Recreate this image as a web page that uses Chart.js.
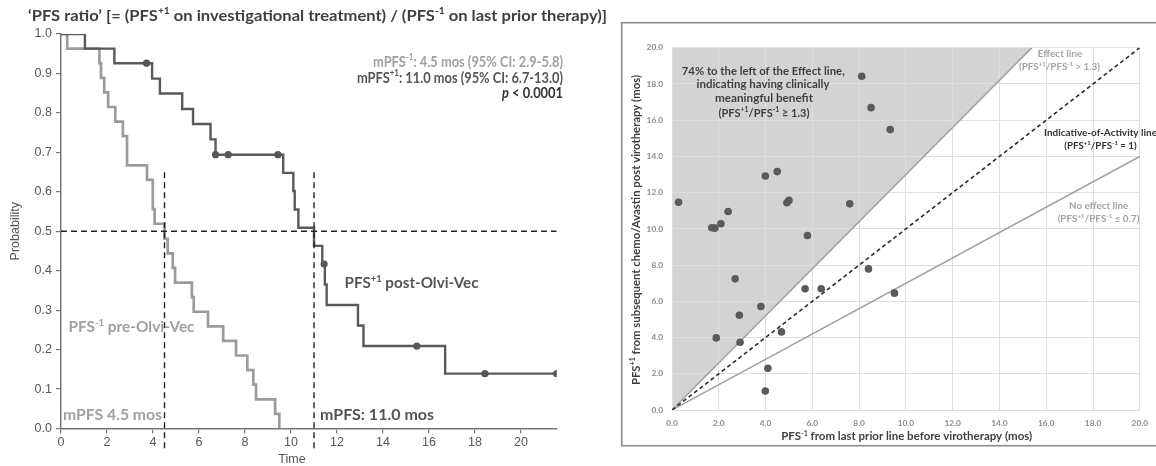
<!DOCTYPE html>
<html><head><meta charset="utf-8">
<script src="https://cdn.jsdelivr.net/npm/chart.js@4.4.1/dist/chart.umd.min.js"></script>
<style>
html,body{margin:0;padding:0;background:#fff;width:1156px;height:466px;overflow:hidden}
#left{position:absolute;left:0;top:0;width:620px;height:466px}
#right{position:absolute;left:600px;top:0;width:556px;height:466px}
</style></head><body>
<canvas id="left" width="620" height="466"></canvas>
<canvas id="right" width="556" height="466"></canvas>
<script>
// ---------- LEFT: Kaplan-Meier data ----------
const preTimes = [0, 0.27, 1.67, 1.74, 1.88, 2.05, 2.36, 2.69, 2.87, 3.74, 3.99, 4.07, 4.50, 4.64, 4.86, 4.96, 5.69, 5.77, 6.39, 7.05, 7.61, 8.10, 8.36, 8.48, 9.31, 9.49];
const preSurv  = [1, 0.963, 0.926, 0.889, 0.852, 0.815, 0.778, 0.741, 0.667, 0.630, 0.556, 0.519, 0.481, 0.444, 0.407, 0.370, 0.333, 0.296, 0.259, 0.222, 0.185, 0.148, 0.111, 0.074, 0.037, 0];
const postTimes = [0, 1.04, 2.32, 3.96, 4.30, 5.27, 5.74, 6.50, 6.72, 9.66, 10.10, 10.16, 10.32, 11.00, 11.36, 11.47, 11.55, 12.91, 13.15, 16.70, 21.55];
const postSurv  = [1, 0.963, 0.926, 0.887, 0.849, 0.810, 0.772, 0.733, 0.694, 0.648, 0.602, 0.555, 0.509, 0.463, 0.417, 0.365, 0.313, 0.261, 0.209, 0.139, 0.139];
const postCensorTimes = [3.72, 6.72, 7.27, 9.43, 11.44, 15.47, 18.43, 21.55];
const postCensorSurv  = [0.926, 0.694, 0.694, 0.694, 0.417, 0.209, 0.139, 0.139];
const medianPre = 4.5;
const medianPost = 11.0;
const medianLevel = 0.5;
const medianDashRange = [-0.05, 0.66];
const leftXTicks = [0, 2, 4, 6, 8, 10, 12, 14, 16, 18, 20];
const leftYTicks = [0, 0.1, 0.2, 0.3, 0.4, 0.5, 0.6, 0.7, 0.8, 0.9, 1.0];

// ---------- RIGHT: scatter data ----------
const priorPFS = [0.28, 1.70, 1.83, 2.09, 2.40, 3.99, 4.50, 4.91, 5.00, 5.79, 7.60, 8.11, 8.51, 9.33, 2.70, 5.69, 6.38, 8.40, 3.80, 2.88, 1.89, 2.91, 4.68, 4.10, 3.99, 9.51];
const postPFS  = [11.47, 10.06, 10.04, 10.28, 10.96, 12.92, 13.16, 11.44, 11.57, 9.63, 11.38, 18.42, 16.69, 15.48, 7.24, 6.69, 6.69, 7.79, 5.71, 5.23, 3.98, 3.74, 4.31, 2.30, 1.05, 6.45];
const effectRatio = 1.3;
const activityRatio = 1.0;
const noEffectRatio = 0.7;
const rightAxisMax = 20;
const rightTicks = [0, 2, 4, 6, 8, 10, 12, 14, 16, 18, 20];

// ---------- helpers ----------
function parseRich(str){
  const segs=[]; const re=/\^\{([^}]*)\}|\*([^*]+)\*|([^^*]+)/g; let m;
  while((m=re.exec(str))){
    if(m[1]!==undefined) segs.push({t:m[1],sup:true});
    else if(m[2]!==undefined) segs.push({t:m[2],it:true});
    else segs.push({t:m[3]});
  }
  return segs;
}
function drawRich(ctx, str, x, y, o){
  const segs = parseRich(str);
  const fam = o.family || 'Lato';
  const wt = o.weight || 'bold';
  const fontFor = s => `${s.it?'italic ':''}${wt} ${s.sup? (o.size*0.62).toFixed(2) : o.size}px ${fam}`;
  let natural = 0;
  const widths = segs.map(s => { ctx.font = fontFor(s); const w = ctx.measureText(s.t).width; natural += w; return w; });
  const k = o.w ? o.w / natural : 1;
  const total = natural * k;
  const x0 = o.align==='right' ? -total : o.align==='center' ? -total/2 : 0;
  ctx.save();
  ctx.translate(x, y);
  if (o.rot) ctx.rotate(o.rot);
  ctx.scale(k, 1);
  ctx.fillStyle = o.color || '#404040';
  ctx.textBaseline = 'middle';
  ctx.textAlign = 'left';
  let cx = x0 / k;
  segs.forEach((s,i) => { ctx.font = fontFor(s); ctx.fillText(s.t, cx, s.sup ? -o.size*0.32 : 0); cx += widths[i]; });
  ctx.restore();
}
const pts = (xs, ys) => xs.map((x,i)=>({x:x, y:ys[i]}));
const ratioLine = r => [{x:0,y:0},{x:Math.min(rightAxisMax, rightAxisMax/r), y:Math.min(rightAxisMax, rightAxisMax*r)}];

// ---------- LEFT texts ----------
const leftTexts = [
  {s:'‘PFS ratio’ [= (PFS^{+1} on investigational treatment) / (PFS^{-1} on last prior therapy)]', x:28, y:16, size:16, w:579, color:'#3f3f3f', align:'left'},
  {s:'mPFS^{-1}: 4.5 mos (95% CI: 2.9-5.8)', x:563, y:62, size:14.5, w:190, color:'#a0a0a0', align:'right'},
  {s:'mPFS^{+1}: 11.0 mos (95% CI: 6.7-13.0)', x:563, y:78, size:14.5, w:206, color:'#555555', align:'right'},
  {s:'*p* < 0.0001', x:563, y:93.5, size:14.5, w:61, color:'#333333', align:'right'},
  {s:'PFS^{+1} post-Olvi-Vec', x:344.5, y:283.5, size:14.5, w:134, color:'#555555', align:'left'},
  {s:'PFS^{-1} pre-Olvi-Vec', x:68.5, y:327.5, size:14.5, w:126, color:'#a0a0a0', align:'left'},
  {s:'mPFS 4.5 mos', x:63, y:415.5, size:14.5, w:99, color:'#a0a0a0', align:'left'},
  {s:'mPFS: 11.0 mos', x:320, y:415.5, size:14.5, w:114, color:'#555555', align:'left'},
  {s:'Time', x:292, y:460, size:12.5, family:'Liberation Sans', weight:'normal', color:'#555555', align:'center'}
];
const leftTextPlugin = {
  id:'leftTexts',
  afterDraw(chart){ const ctx=chart.ctx; leftTexts.forEach(t=>drawRich(ctx,t.s,t.x,t.y,t)); }
};

new Chart(document.getElementById('left'), {
  type:'line',
  data:{datasets:[
    {label:'PFS-1', data:pts(preTimes,preSurv), borderColor:'#9b9b9b', borderWidth:2.7, stepped:true, pointRadius:0, fill:false, order:3},
    {label:'PFS+1', data:pts(postTimes,postSurv), borderColor:'#595959', borderWidth:2.4, stepped:true, pointRadius:0, fill:false, order:2},
    {type:'scatter', label:'censored', data:pts(postCensorTimes,postCensorSurv), pointRadius:3.6, pointBackgroundColor:'#575757', pointBorderWidth:0, showLine:false, order:1},
    {label:'median', data:[{x:0,y:medianLevel},{x:postTimes[postTimes.length-1],y:medianLevel}], borderColor:'#222', borderWidth:1.4, borderDash:[6,4], pointRadius:0, fill:false, order:0},
    {label:'medPre', data:[{x:medianPre,y:medianDashRange[0]},{x:medianPre,y:medianDashRange[1]}], borderColor:'#222', borderWidth:1.4, borderDash:[6,4], pointRadius:0, fill:false, clip:false, order:0},
    {label:'medPost', data:[{x:medianPost,y:medianDashRange[0]},{x:medianPost,y:medianDashRange[1]}], borderColor:'#222', borderWidth:1.4, borderDash:[6,4], pointRadius:0, fill:false, clip:false, order:0}
  ]},
  options:{
    responsive:false, animation:false, events:[],
    layout:{padding:{left:0, top:34, right:63.3, bottom:0}},
    plugins:{legend:{display:false}, tooltip:{enabled:false}},
    scales:{
      x:{type:'linear', min:0, max:postTimes[postTimes.length-1],
        afterFit:s=>{s.height=37.5;},
        afterBuildTicks:s=>{s.ticks=leftXTicks.map(v=>({value:v}));},
        ticks:{font:{family:'Liberation Sans', size:12.5}, color:'#555', padding:2, maxRotation:0, autoSkip:false, callback:v=>String(v)},
        grid:{display:true, drawOnChartArea:false, drawTicks:true, tickLength:5, color:'#777', lineWidth:1.2},
        border:{display:true, color:'#777', width:1.5}},
      y:{type:'linear', min:0, max:1,
        afterFit:s=>{s.width=61;},
        afterBuildTicks:s=>{s.ticks=leftYTicks.map(v=>({value:v}));},
        ticks:{font:{family:'Liberation Sans', size:12.5}, color:'#555', padding:4, autoSkip:false, callback:v=>Number(v).toFixed(1)},
        grid:{display:true, drawOnChartArea:false, drawTicks:true, tickLength:5, color:'#777', lineWidth:1.2},
        border:{display:true, color:'#777', width:1.5},
        title:{display:true, text:'Probability', font:{family:'Liberation Sans', size:12.5}, color:'#555', padding:{top:8.5, bottom:0}}}
    }
  },
  plugins:[leftTextPlugin]
});

// ---------- RIGHT texts (page coords; canvas offset 600) ----------
const RX = 600;
const rightTexts = [
  {s:'74% to the left of the Effect line,', x:763.3, y:71, size:11, w:163, color:'#3f3f3f', align:'center'},
  {s:'indicating having clinically', x:763, y:84.5, size:11, w:133, color:'#3f3f3f', align:'center'},
  {s:'meaningful benefit', x:764, y:98, size:11, w:98, color:'#3f3f3f', align:'center'},
  {s:'(PFS^{+1}/PFS^{-1} ≥ 1.3)', x:764, y:113, size:11, w:91, color:'#3f3f3f', align:'center'},
  {s:'Effect line', x:1060, y:54, size:9.5, w:44.6, color:'#a3a3a3', align:'center'},
  {s:'(PFS^{+1}/PFS^{-1} > 1.3)', x:1059.5, y:67.3, size:9.5, w:81, color:'#a3a3a3', align:'center'},
  {s:'Indicative-of-Activity line', x:1100.5, y:132.7, size:9.5, w:113, color:'#333333', align:'center'},
  {s:'(PFS^{+1}/PFS^{-1} = 1)', x:1100.5, y:146, size:9.5, w:72.3, color:'#333333', align:'center'},
  {s:'No effect line', x:1098.7, y:205.7, size:9.5, w:59.3, color:'#a3a3a3', align:'center'},
  {s:'(PFS^{+1}/PFS^{-1} ≤ 0.7)', x:1098.5, y:219, size:9.5, w:81.7, color:'#a3a3a3', align:'center'},
  {s:'PFS^{-1} from last prior line before virotherapy (mos)', x:906.7, y:437, size:10.5, w:251, color:'#404040', align:'center'},
  {s:'PFS^{+1} from subsequent chemo/Avastin post virotherapy (mos)', x:636.7, y:230, size:10.5, w:310, color:'#404040', align:'center', rot:-Math.PI/2}
];
const rightPlugin = {
  id:'rightDeco',
  beforeDraw(chart){
    const ctx=chart.ctx; ctx.save();
    ctx.strokeStyle='#8c8c8c'; ctx.lineWidth=1.6;
    ctx.strokeRect(621.7-RX, 22.7, 580, 423);
    ctx.restore();
  },
  afterDraw(chart){ const ctx=chart.ctx; rightTexts.forEach(t=>drawRich(ctx,t.s,t.x-RX,t.y,t)); }
};

new Chart(document.getElementById('right'), {
  type:'scatter',
  data:{datasets:[
    {label:'patients', data:pts(priorPFS,postPFS), pointRadius:3.8, pointBackgroundColor:'#5a5a5a', pointBorderWidth:0, order:0},
    {type:'line', label:'Effect line', data:ratioLine(effectRatio), borderColor:'#9e9e9e', borderWidth:1.5, pointRadius:0, fill:'end', backgroundColor:'#d3d3d3', order:3},
    {type:'line', label:'Activity line', data:ratioLine(activityRatio), borderColor:'#2b2b2b', borderWidth:1.6, borderDash:[4,3], pointRadius:0, fill:false, order:2},
    {type:'line', label:'No effect line', data:ratioLine(noEffectRatio), borderColor:'#9e9e9e', borderWidth:1.5, pointRadius:0, fill:false, order:2}
  ]},
  options:{
    responsive:false, animation:false, events:[],
    layout:{padding:{left:0, top:47.7, right:14.3, bottom:0}},
    plugins:{legend:{display:false}, tooltip:{enabled:false}, filler:{drawTime:'beforeDraw'}},
    scales:{
      x:{type:'linear', min:0, max:rightAxisMax,
        afterFit:s=>{s.height=56;},
        afterBuildTicks:s=>{s.ticks=rightTicks.map(v=>({value:v}));},
        ticks:{font:{family:'Lato', size:8.3, weight:'bold'}, color:'#8a8a8a', padding:8, maxRotation:0, autoSkip:false, callback:v=>Number(v).toFixed(1)},
        grid:{color:'#dedede', lineWidth:1, drawTicks:false},
        border:{display:true, color:'#dedede'}},
      y:{type:'linear', min:0, max:rightAxisMax,
        afterFit:s=>{s.width=72;},
        afterBuildTicks:s=>{s.ticks=rightTicks.map(v=>({value:v}));},
        ticks:{font:{family:'Lato', size:8.3, weight:'bold'}, color:'#8a8a8a', padding:9, autoSkip:false, callback:v=>Number(v).toFixed(1)},
        grid:{color:'#dedede', lineWidth:1, drawTicks:false},
        border:{display:true, color:'#dedede'}}
    }
  },
  plugins:[rightPlugin]
});
</script>
</body></html>
